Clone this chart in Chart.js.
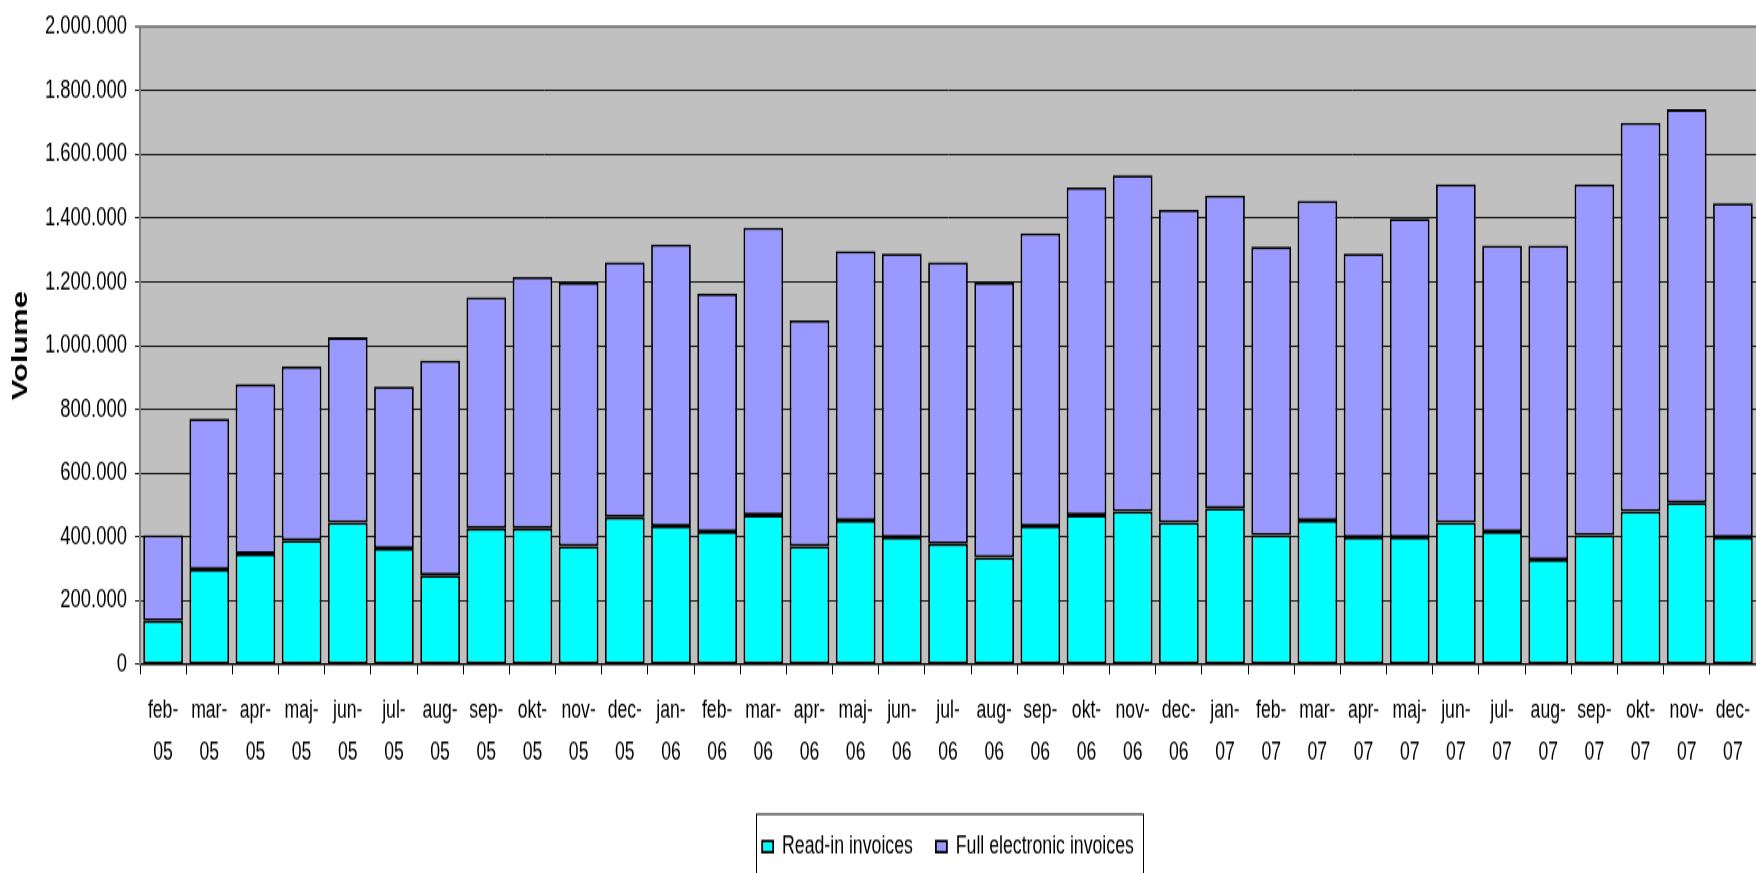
<!DOCTYPE html>
<html><head><meta charset="utf-8">
<script src="https://cdn.jsdelivr.net/npm/chart.js@4.4.1/dist/chart.umd.min.js"></script>
<style>
html,body{margin:0;padding:0;background:#fff;overflow:hidden;width:1756px;height:873px;}
#wrap{position:absolute;left:0;top:0;width:1756px;height:624px;transform:scaleY(1.39904);transform-origin:0 0;}
canvas{display:block;}
</style></head><body>
<div id="wrap"><canvas id="c" width="1756" height="624" style="width:1756px;height:624px"></canvas></div>
<script>
const categories = [
  ['feb-','05'],['mar-','05'],['apr-','05'],['maj-','05'],['jun-','05'],['jul-','05'],['aug-','05'],['sep-','05'],['okt-','05'],['nov-','05'],['dec-','05'],
  ['jan-','06'],['feb-','06'],['mar-','06'],['apr-','06'],['maj-','06'],['jun-','06'],['jul-','06'],['aug-','06'],['sep-','06'],['okt-','06'],['nov-','06'],['dec-','06'],
  ['jan-','07'],['feb-','07'],['mar-','07'],['apr-','07'],['maj-','07'],['jun-','07'],['jul-','07'],['aug-','07'],['sep-','07'],['okt-','07'],['nov-','07'],['dec-','07']
];
const readIn = [137000, 298000, 347000, 389000, 445000, 364000, 280000, 427000, 427000, 371000, 462000,
  434000, 417000, 469000, 371000, 452000, 399000, 378000, 336000, 434000, 469000, 480000, 445000,
  490000, 406000, 452000, 399000, 399000, 445000, 417000, 329000, 406000, 480000, 508000, 399000];
const fullElectronic = [269000, 473000, 532000, 546000, 581000, 508000, 673000, 725000, 788000, 827000, 799000,
  883000, 746000, 901000, 708000, 844000, 890000, 883000, 862000, 918000, 1027000, 1054000, 981000,
  981000, 904000, 1002000, 890000, 999000, 1061000, 897000, 985000, 1100000, 1219000, 1233000, 1048000];
const seriesNames = ['Read-in invoices', 'Full electronic invoices'];
const yMin = 0, yMax = 2000000, yStep = 200000;
const yTitle = 'Volume';

const fmt = v => String(v).replace(/\B(?=(\d{3})+(?!\d))/g, '.');

function hasFont(name) {
  const c = document.createElement('canvas').getContext('2d');
  const t = '1.000.000 Read-in invoices';
  c.font = '40px monospace';
  const a = c.measureText(t).width;
  c.font = "40px '" + name + "', monospace";
  const b = c.measureText(t).width;
  return Math.abs(a - b) > 0.5;
}
const narrow = hasFont('Liberation Sans Narrow');
const fam = narrow ? "'Liberation Sans Narrow', 'Liberation Sans', Arial, sans-serif" : "'Liberation Sans', Arial, sans-serif";
const k = narrow ? 1 : 0.82;
Chart.defaults.font.family = fam;

const plotDecor = {
  id: 'plotDecor',
  beforeDraw(chart) {
    const {ctx, chartArea: a} = chart;
    ctx.save();
    ctx.fillStyle = '#C0C0C0';
    ctx.fillRect(a.left, a.top, a.right - a.left, a.bottom - a.top);
    ctx.restore();
  },
  afterDraw(chart) {
    const lg = chart.legend;
    if (!lg || !lg.legendHitBoxes || !lg.legendHitBoxes.length) return;
    const hb = lg.legendHitBoxes;
    const l = hb[0].left - 6;
    const last = hb[hb.length - 1];
    const r = last.left + last.width + 9;
    const {ctx} = chart;
    ctx.save();
    ctx.strokeStyle = '#000';
    ctx.lineWidth = 1;
    ctx.strokeRect(Math.round(l) + 0.5, 582, Math.round(r - l), 120);
    ctx.restore();
  }
};

new Chart(document.getElementById('c'), {
  type: 'bar',
  data: {
    labels: categories,
    datasets: [
      { label: seriesNames[0], data: readIn, backgroundColor: '#00FFFF', borderColor: '#000', borderWidth: 1.8, borderSkipped: false },
      { label: seriesNames[1], data: fullElectronic, backgroundColor: '#9999FF', borderColor: '#000', borderWidth: 1.8, borderSkipped: false }
    ]
  },
  options: {
    responsive: false,
    animation: false,
    devicePixelRatio: 1,
    categoryPercentage: 1,
    barPercentage: 0.86,
    layout: { padding: { top: 18.2, left: 0, right: 0, bottom: 0 } },
    plugins: {
      tooltip: { enabled: false },
      legend: {
        position: 'bottom',
        fullSize: false,
        labels: { boxWidth: 11, boxHeight: 8, padding: 23, color: '#000', font: { size: 21.6 * k } }
      }
    },
    scales: {
      x: {
        stacked: true,
        grid: { display: true, drawOnChartArea: false, drawTicks: true, tickLength: 7, offset: true, color: '#000', lineWidth: 1 },
        border: { display: true, color: '#000', width: 1.5 },
        ticks: { color: '#000', font: { size: 21.5 * k, lineHeight: 29.8 / (21.5 * k) }, padding: 11.5, maxRotation: 0, autoSkip: false },
        afterFit(s) { s.height = 98.3; s.paddingLeft = 0; s.paddingRight = 0; }
      },
      y: {
        stacked: true,
        min: yMin, max: yMax,
        ticks: { stepSize: yStep, color: '#000', font: { size: 22.5 * k }, padding: 8, callback: v => fmt(v) },
        grid: {
          color: c => (c.tick && c.tick.value === yMax) ? '#808080' : '#111',
          lineWidth: c => (c.tick && c.tick.value === yMax) ? 2 : 1,
          tickLength: 5, drawTicks: true
        },
        border: { color: '#808080', width: 2 },
        title: { display: true, text: yTitle, color: '#000', font: { family: "'Liberation Sans', Arial, sans-serif", size: 22, weight: 'bold' }, padding: { top: 7.5, bottom: 0 } },
        afterFit(s) { s.width = 140; }
      }
    }
  },
  plugins: [plotDecor]
});
</script>
</body></html>
